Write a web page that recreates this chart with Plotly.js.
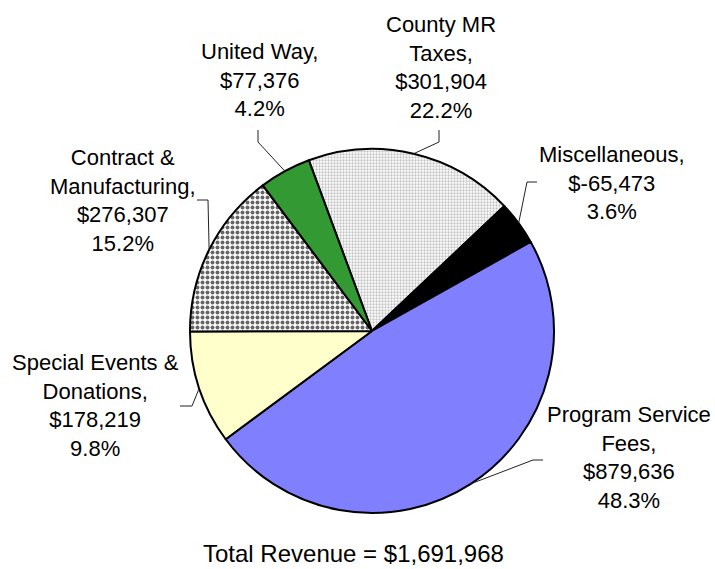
<!DOCTYPE html>
<html>
<head>
<meta charset="utf-8">
<script src="https://cdn.plot.ly/plotly-3.0.1.min.js"></script>
<style>
  html, body { margin: 0; padding: 0; background: #fff; }
  #chart { width: 715px; height: 569px; }
</style>
</head>
<body>
<div id="chart"></div>
<script>
// slices, clockwise from County MR Taxes
const categories = ['County MR Taxes', 'Miscellaneous', 'Program Service Fees', 'Special Events & Donations', 'Contract & Manufacturing', 'United Way'];
const nameLines = [['County MR', 'Taxes,'], ['Miscellaneous,'], ['Program Service', 'Fees,'], ['Special Events &', 'Donations,'], ['Contract &', 'Manufacturing,'], ['United Way,']];
const amounts = [301904, -65473, 879636, 178219, 276307, 77376];
const percentLabels = ['22.2%', '3.6%', '48.3%', '9.8%', '15.2%', '4.2%'];
// slice sizes as drawn (share of the circle, %)
const sliceShares = [18.6, 3.9, 48.0, 10.1, 14.8, 4.6];
const totalRevenue = 1691968;

const W = 715, H = 569;
const CX = 372, CY = 331, R = 182, ROT = -20.3;
const px = (x, y) => [x / W, 1 - y / H];

const colors = ['#eeeeee', '#000000', '#8080ff', '#ffffcc', '#b4b4b4', '#339933'];

// label centres and leader elbows, in pixels
const labelPos = [[441, 67], [612, 183], [629, 457], [95, 405], [123, 200], [259, 80]];
const leaderKnees = [
    [[439, 130], [439, 142]],
    [[537, 182], [527, 182]],
    [[543, 460], [533, 460]],
    [[180, 406], [192, 406]],
    [[197, 200], [208, 200]],
    [[258, 130], [258, 142]]
];

const fmt = n => '$' + n.toLocaleString('en-US');

const shareSum = sliceShares.reduce((a, b) => a + b, 0);
let cum = 0;
const annotations = [], shapes = [];
categories.forEach((c, i) => {
    const mid = (ROT + (cum + sliceShares[i] / 2) / shareSum * 360) * Math.PI / 180;
    cum += sliceShares[i];
    const ex = CX + R * Math.sin(mid), ey = CY - R * Math.cos(mid);

    const [lx, ly] = px(labelPos[i][0], labelPos[i][1]);
    annotations.push({
        xref: 'paper', yref: 'paper', x: lx, y: ly, xanchor: 'center', yanchor: 'middle',
        text: nameLines[i].concat([fmt(amounts[i]), percentLabels[i]]).join('<br>'),
        showarrow: false, align: 'center'
    });

    const pts = leaderKnees[i].concat([[ex, ey]]).map(p => px(p[0], p[1]));
    shapes.push({
        type: 'path', xref: 'paper', yref: 'paper',
        path: 'M' + pts.map(p => p[0] + ',' + p[1]).join(' L'),
        line: { color: '#222', width: 1 }
    });
});

const [tx, ty] = px(353, 553);
annotations.push({
    xref: 'paper', yref: 'paper', x: tx, y: ty, xanchor: 'center', yanchor: 'middle',
    text: 'Total Revenue = ' + fmt(totalRevenue), showarrow: false, font: { size: 24 }
});

Plotly.newPlot('chart', [{
    type: 'pie',
    labels: categories,
    values: sliceShares,
    sort: false,
    direction: 'clockwise',
    rotation: ROT,
    textinfo: 'none',
    hoverinfo: 'none',
    domain: { x: [(CX - R) / W, (CX + R) / W], y: [1 - (CY + R) / H, 1 - (CY - R) / H] },
    marker: {
        colors: colors,
        line: { color: '#000', width: 2 },
        pattern: {
            shape: ['.', '', '', '', '.', ''],
            fgcolor: ['#c4c4c4', '#000', '#000', '#000', '#666666', '#000'],
            size: [3, 8, 8, 8, 5, 8],
            solidity: [0.45, 0.3, 0.3, 0.3, 0.5, 0.3]
        }
    }
}], {
    width: W, height: H,
    margin: { l: 0, r: 0, t: 0, b: 0 },
    paper_bgcolor: '#fff',
    showlegend: false,
    font: { family: '"Liberation Sans", Arial, sans-serif', size: 22, color: '#000' },
    annotations: annotations,
    shapes: shapes
}, { staticPlot: true });
</script>
</body>
</html>
